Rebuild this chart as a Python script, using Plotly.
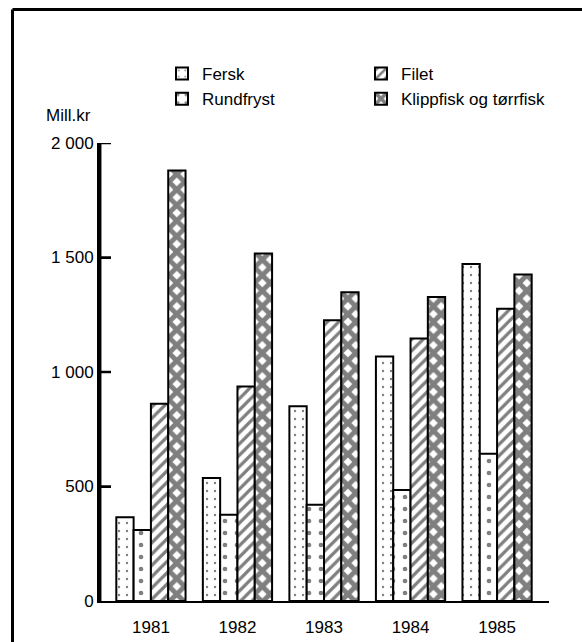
import plotly.graph_objects as go

years = ["1981", "1982", "1983", "1984", "1985"]
fersk = [366, 537, 850, 1068, 1472]
rundfryst = [310, 377, 420, 485, 643]
filet = [861, 937, 1226, 1146, 1276]
klippfisk = [1880, 1517, 1348, 1328, 1426]

series_names = ["Fersk", "Rundfryst", "Filet", "Klippfisk og tørrfisk"]
tick_vals = [0, 500, 1000, 1500, 2000]
tick_text = ["0", "500", "1 000", "1 500", "2 000"]
y_title = "Mill.kr"

W, H = 582, 642
L, R, T, B = 99, 33, 143, 41
pw, ph = W - L - R, H - T - B


def px(x):
    return (x - L) / pw


def py(y):
    return (H - B - y) / ph


FONT = "Liberation Sans, Arial, sans-serif"

patterns = [
    dict(shape=".", size=8, solidity=0.07, fgcolor="black", bgcolor="white", fillmode="overlay"),
    dict(shape=".", size=12, solidity=0.12, fgcolor="black", bgcolor="white", fillmode="overlay"),
    dict(shape="/", size=8, solidity=0.4, fgcolor="black", bgcolor="white", fillmode="overlay"),
    dict(shape="x", size=11, solidity=0.7, fgcolor="black", bgcolor="white", fillmode="overlay"),
]
ranks = [1, 3, 2, 4]

fig = go.Figure()
for name, vals, pat, rk in zip(series_names, [fersk, rundfryst, filet, klippfisk], patterns, ranks):
    fig.add_trace(go.Bar(
        x=years, y=vals, name=name, legendrank=rk,
        marker=dict(color="white", line=dict(color="black", width=2), pattern=pat),
    ))

# y-axis line and inside ticks, placed on the y scale
shapes = [
    dict(type="line", xref="paper", yref="y", x0=1.2 / pw, x1=1.2 / pw, y0=tick_vals[0], y1=tick_vals[-1],
         line=dict(color="black", width=2.5), layer="above"),
]
for v in tick_vals[1:]:
    shapes.append(dict(type="line", xref="paper", yref="y", x0=0, x1=12 / pw, y0=v, y1=v,
                       line=dict(color="black", width=2.5), layer="above"))
# page frame
shapes += [
    dict(type="line", xref="paper", yref="paper", x0=px(12.5), x1=px(600), y0=py(9.5), y1=py(9.5),
         line=dict(color="black", width=3)),
    dict(type="line", xref="paper", yref="paper", x0=px(12.5), x1=px(12.5), y0=py(9.5), y1=py(660),
         line=dict(color="black", width=3)),
]

fig.update_layout(
    width=W, height=H,
    margin=dict(l=L, r=R, t=T, b=B, autoexpand=False),
    paper_bgcolor="white", plot_bgcolor="white",
    barmode="group", bargap=0.2, bargroupgap=0,
    font=dict(family=FONT, size=16, color="black"),
    showlegend=True,
    legend=dict(
        orientation="h", x=px(162), y=py(56), xanchor="left", yanchor="top",
        entrywidth=154, entrywidthmode="pixels",
        font=dict(size=17), bgcolor="rgba(0,0,0,0)", tracegroupgap=0,
        itemclick=False,
    ),
    xaxis=dict(
        type="category", range=[-0.6, 4.6], showline=True, linecolor="black", linewidth=2,
        ticks="outside", ticklen=10, tickcolor="rgba(0,0,0,0)",
        showgrid=False, zeroline=False, tickfont=dict(size=17), automargin=False,
    ),
    yaxis=dict(
        range=[0, 2000], showline=True, linecolor="black", linewidth=2,
        ticks="inside", ticklen=12, tickwidth=2, tickcolor="black",
        tickvals=tick_vals, ticktext=tick_text, showgrid=False, zeroline=False,
        tickfont=dict(size=17), automargin=False,
    ),
    annotations=[dict(
        text=y_title, xref="paper", yref="paper", x=px(44), y=py(115),
        xanchor="left", yanchor="middle", showarrow=False, font=dict(size=17),
    )],
    shapes=shapes,
)

fig.write_html("out.html")
